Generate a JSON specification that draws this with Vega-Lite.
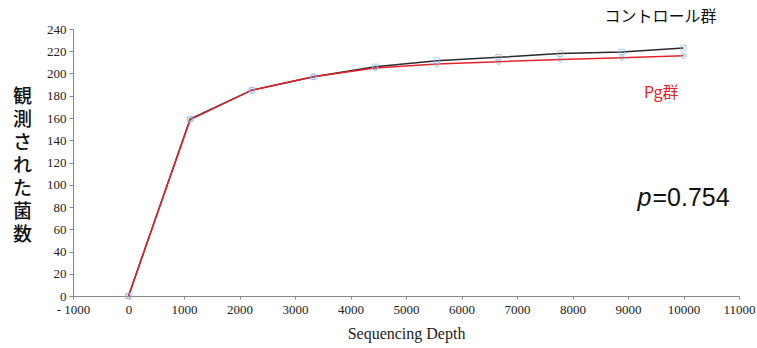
{
  "$schema": "https://vega.github.io/schema/vega-lite/v6.json",
  "autosize": {"type": "none"},
  "width": 666,
  "height": 267,
  "padding": {"left": 73, "top": 29, "right": 18, "bottom": 52},
  "background": "white",
  "config": {"view": {"stroke": null}},
  "datasets": {
    "curves": [
      {"series": "control", "depth": 0, "value": 0},
      {"series": "control", "depth": 1111, "value": 159},
      {"series": "control", "depth": 2222, "value": 185},
      {"series": "control", "depth": 3333, "value": 197},
      {"series": "control", "depth": 4444, "value": 206},
      {"series": "control", "depth": 5556, "value": 211.5},
      {"series": "control", "depth": 6667, "value": 214.5},
      {"series": "control", "depth": 7778, "value": 218},
      {"series": "control", "depth": 8889, "value": 219.3},
      {"series": "control", "depth": 10000, "value": 223},
      {"series": "Pg", "depth": 0, "value": 0},
      {"series": "Pg", "depth": 1111, "value": 158.5},
      {"series": "Pg", "depth": 2222, "value": 185},
      {"series": "Pg", "depth": 3333, "value": 197},
      {"series": "Pg", "depth": 4444, "value": 205},
      {"series": "Pg", "depth": 5556, "value": 208.5},
      {"series": "Pg", "depth": 6667, "value": 210.6},
      {"series": "Pg", "depth": 7778, "value": 212.6},
      {"series": "Pg", "depth": 8889, "value": 214.2},
      {"series": "Pg", "depth": 10000, "value": 216}
    ],
    "labels": [
      {"text": "コントロール群", "depth": 9586, "value": 250.5, "color": "black"},
      {"text": "Pg群", "depth": 9600, "value": 182.5, "color": "red"}
    ]
  },
  "encoding": {
    "x": {
      "field": "depth", "type": "quantitative",
      "scale": {"domain": [-1000, 11000], "nice": false, "zero": false},
      "axis": {
        "values": [-1000, 0, 1000, 2000, 3000, 4000, 5000, 6000, 7000, 8000, 9000, 10000, 11000],
        "labelExpr": "datum.value < 0 ? '- ' + format(-datum.value, 'd') : format(datum.value, 'd')",
        "labelFont": "Liberation Serif", "labelFontSize": 13, "labelColor": "#222",
        "labelPadding": 4, "labelOverlap": false, "labelFlush": false,
        "grid": false, "domainColor": "#888", "tickColor": "#888", "tickSize": 3,
        "title": "Sequencing Depth", "titleFont": "Liberation Serif", "titleFontSize": 16,
        "titleFontWeight": "normal", "titleColor": "#222", "titlePadding": 9
      }
    },
    "y": {
      "field": "value", "type": "quantitative",
      "scale": {"domain": [0, 240], "nice": false},
      "axis": {
        "values": [0, 20, 40, 60, 80, 100, 120, 140, 160, 180, 200, 220, 240],
        "labelFont": "Liberation Serif", "labelFontSize": 13, "labelColor": "#222",
        "labelPadding": 3, "labelFlush": false,
        "grid": false, "domainColor": "#888", "tickColor": "#888", "tickSize": 4,
        "title": ["観", "測", "さ", "れ", "た", "菌", "数"],
        "titleFont": "Noto Sans CJK JP", "titleFontSize": 19, "titleFontWeight": 500,
        "titleColor": "#111", "titleAngle": 0, "titleAlign": "center", "titleBaseline": "top",
        "titleX": -51, "titleY": 58, "titleLineHeight": 23
      }
    }
  },
  "layer": [
    {
      "data": {"name": "curves"},
      "transform": [{"filter": "datum.series === 'control'"}],
      "mark": {"type": "line", "color": "#2b2b2b", "strokeWidth": 1.5}
    },
    {
      "data": {"name": "curves"},
      "transform": [{"filter": "datum.series === 'Pg'"}],
      "mark": {"type": "line", "color": "#e8202a", "strokeWidth": 1.5}
    },
    {
      "data": {"name": "curves"},
      "transform": [{"filter": "datum.series === 'control'"}],
      "mark": {"type": "point", "shape": "square", "filled": false, "color": "#8fb8e0", "size": 30, "strokeWidth": 1}
    },
    {
      "data": {"name": "curves"},
      "transform": [{"filter": "datum.series === 'Pg'"}],
      "mark": {"type": "point", "shape": "cross", "filled": false, "color": "#8fb8e0", "size": 30, "strokeWidth": 1, "opacity": 0.7}
    },
    {
      "data": {"name": "labels"},
      "mark": {"type": "text", "font": "Noto Sans CJK JP", "fontSize": 16, "align": "center", "baseline": "middle"},
      "encoding": {
        "text": {"field": "text"},
        "color": {"field": "color", "type": "nominal", "scale": {"domain": ["black", "red"], "range": ["#111111", "#e8202a"]}, "legend": null}
      }
    },
    {
      "data": {"values": [{"text": "p", "depth": 9441, "value": 88}]},
      "mark": {"type": "text", "font": "Liberation Sans", "fontSize": 25, "fontStyle": "italic", "align": "right", "baseline": "middle", "color": "#111", "dx": -1},
      "encoding": {"text": {"field": "text"}}
    },
    {
      "data": {"values": [{"text": "=0.754", "depth": 9441, "value": 88}]},
      "mark": {"type": "text", "font": "Liberation Sans", "fontSize": 25, "align": "left", "baseline": "middle", "color": "#111"},
      "encoding": {"text": {"field": "text"}}
    }
  ]
}
